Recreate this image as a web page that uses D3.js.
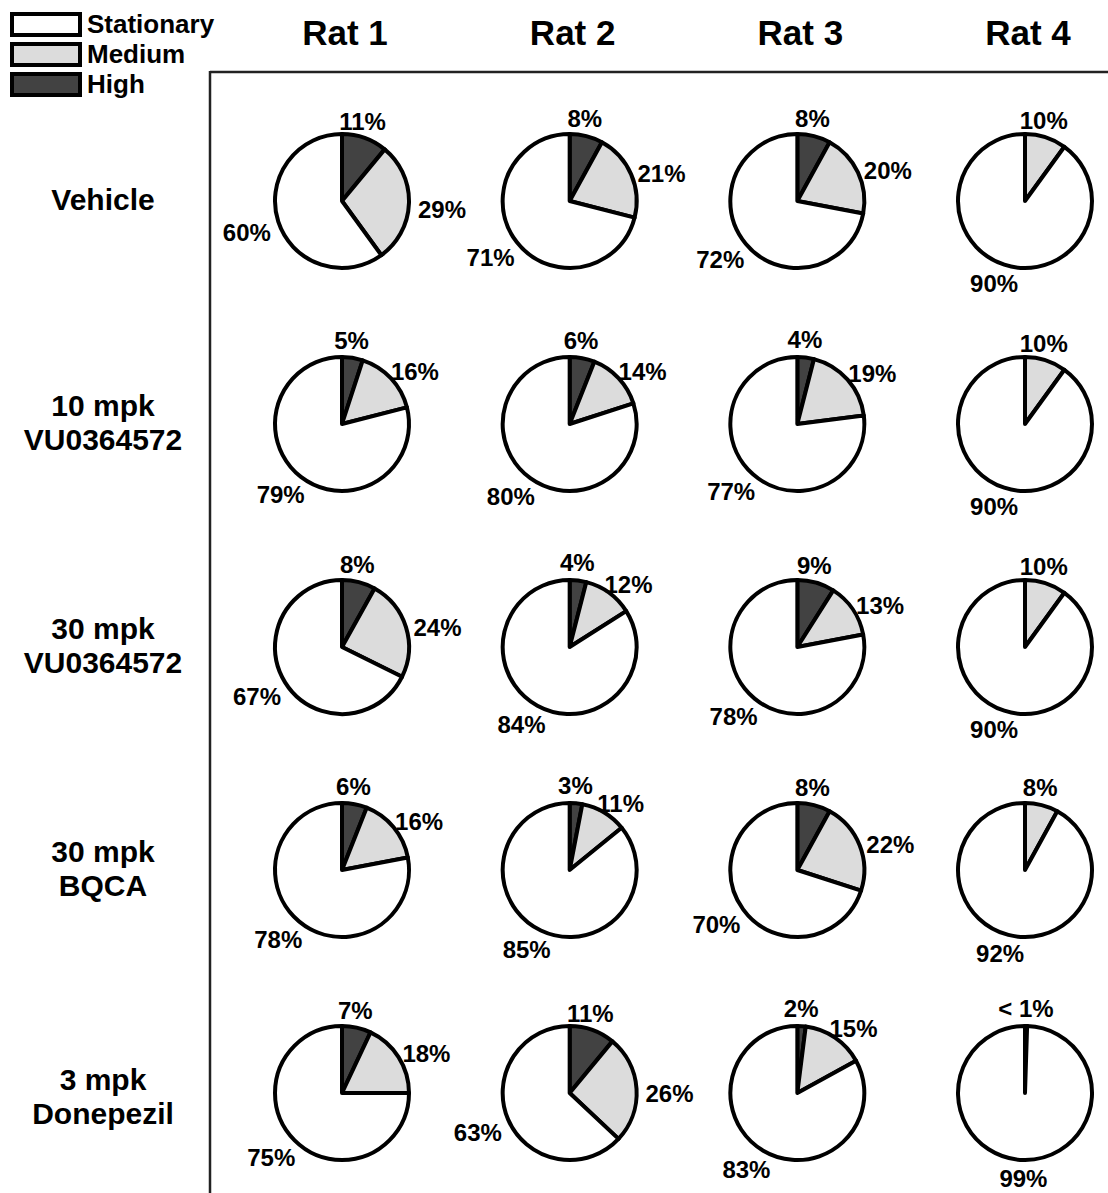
<!DOCTYPE html>
<html>
<head>
<meta charset="utf-8">
<script src="https://cdn.jsdelivr.net/npm/d3@7"></script>
<style>
  body { margin: 0; background: #fff; }
  text { font-family: "Liberation Sans", Arial, Helvetica, sans-serif; font-weight: bold; fill: #000; }
</style>
</head>
<body>
<div id="chart"></div>
<script>
// Column / row categories
const rats = ["Rat 1", "Rat 2", "Rat 3", "Rat 4"];
const conditions = [
    ["Vehicle"],
    ["10 mpk", "VU0364572"],
    ["30 mpk", "VU0364572"],
    ["30 mpk", "BQCA"],
    ["3 mpk", "Donepezil"]
];
const speeds = ["Stationary", "Medium", "High"];

// Percent of time per speed, rows = conditions, cols = rats
const stationary = [
    [60, 71, 72, 90],
    [79, 80, 77, 90],
    [67, 84, 78, 90],
    [78, 85, 70, 92],
    [75, 63, 83, 99]
];
const medium = [
    [29, 21, 20, 10],
    [16, 14, 19, 10],
    [24, 12, 13, 10],
    [16, 11, 22, 8],
    [18, 26, 15, 0.5]
];
const high = [
    [11, 8, 8, 0],
    [5, 6, 4, 0],
    [8, 4, 9, 0],
    [6, 3, 8, 0],
    [7, 11, 2, 0]
];

const W = 1108, H = 1193;
const colors = { Stationary: "#ffffff", Medium: "#dcdcdc", High: "#424242" };

const svg = d3.select("#chart").append("svg")
    .attr("width", W)
    .attr("height", H);

// Scales for the grid of pies
const x = d3.scalePoint().domain(rats).range([342, 1025]);
const y = d3.scalePoint().domain(d3.range(conditions.length)).range([201, 1093]);
const r = 67;

// Frame lines
svg.append("line")
    .attr("x1", 210).attr("x2", W).attr("y1", 72).attr("y2", 72)
    .attr("stroke", "#222").attr("stroke-width", 2.5);
svg.append("line")
    .attr("x1", 210).attr("x2", 210).attr("y1", 71).attr("y2", H)
    .attr("stroke", "#222").attr("stroke-width", 2.5);

// Column headers
svg.selectAll(".rat")
    .data(rats)
    .enter().append("text")
    .attr("x", d => x(d) + 3)
    .attr("y", 45)
    .attr("text-anchor", "middle")
    .attr("font-size", "35px")
    .text(d => d);

// Row labels (one text per line)
conditions.forEach((lines, i) => {
    const step = 34;
    const off = (lines.length - 1) * step / 2;
    lines.forEach((ln, k) => {
        svg.append("text")
            .attr("text-anchor", "middle")
            .attr("font-size", "30px")
            .attr("x", 103)
            .attr("y", y(i) + 9 - off + k * step + (i === 4 ? 5 : 0))
            .text(ln);
    });
});

// Legend
const leg = svg.append("g");
speeds.forEach((s, i) => {
    leg.append("rect")
        .attr("x", 12).attr("y", 14 + i * 30)
        .attr("width", 68).attr("height", 21)
        .attr("fill", colors[s])
        .attr("stroke", "#000").attr("stroke-width", 4);
    leg.append("text")
        .attr("x", 87).attr("y", 33 + i * 30)
        .attr("font-size", "26px")
        .text(s);
});

// Pies
const pie = d3.pie().sort(null).value(d => d.value);
const arc = d3.arc().innerRadius(0).outerRadius(r);
const fmt = v => v < 1 ? "< 1%" : v + "%";

conditions.forEach((c, i) => {
    rats.forEach((rat, j) => {
        const vals = [
            { key: "High", value: high[i][j] },
            { key: "Medium", value: medium[i][j] },
            { key: "Stationary", value: stationary[i][j] }
        ].filter(d => d.value > 0);

        const g = svg.append("g")
            .attr("transform", `translate(${x(rat)},${y(i)})`);

        const arcs = pie(vals);

        g.selectAll("path")
            .data(arcs)
            .enter().append("path")
            .attr("d", arc)
            .attr("fill", d => colors[d.data.key])
            .attr("stroke", "#000")
            .attr("stroke-width", 4)
            .attr("stroke-linejoin", "round");

        // Labels outside each slice, at the slice's mid angle
        arcs.forEach(d => {
            const a = (d.startAngle + d.endAngle) / 2;
            const t = g.append("text")
                .attr("font-size", "24px")
                .attr("text-anchor", "middle")
                .attr("dominant-baseline", "central")
                .text(fmt(d.data.value));
            const w = t.node().getComputedTextLength();
            const h = 18;
            const pad = 9;
            let lx = Math.sin(a) * (r + pad + w / 2);
            let ly = -Math.cos(a) * (r + pad + h / 2);
            if (Math.cos(a) > 0.9) lx = Math.sin(a) * (r + pad) * 0.8;
            if (d.data.key === "Medium" && Math.cos(a) < 0.9) ly += 6;
            if (d.data.key === "Stationary") ly += 6 * Math.abs(Math.sin(a));
            t.attr("x", lx).attr("y", ly);
        });
    });
});
</script>
</body>
</html>
